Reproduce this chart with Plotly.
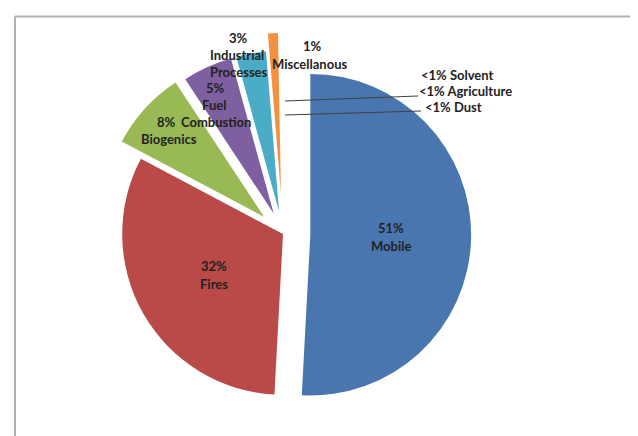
import plotly.graph_objects as go

# ---- data ----
sources = ["Mobile", "Fires", "Biogenics", "Fuel Combustion", "Industrial Processes",
           "Miscellanous", "Solvent", "Agriculture", "Dust"]
shares = [51, 32, 8, 5, 3, 1, 0.1, 0.1, 0.1]
share_labels = ["51%", "32%", "8%", "5%", "3%", "1%", "<1%", "<1%", "<1%"]

# ---- style ----
colors = ["#4A76B0", "#BA4A48", "#98B954", "#7E60A0", "#4AACC6", "#F39140",
          "#FFFFFF", "#FFFFFF", "#FFFFFF"]
pulls = [0.17, 0.0, 0.16, 0.14, 0.14, 0.25, 0.25, 0.25, 0.25]

W, H = 638, 436


def px(x, y):
    return x / W, 1 - y / H


fig = go.Figure(go.Pie(
    labels=sources, values=shares, sort=False, direction="clockwise", rotation=0,
    marker=dict(colors=colors, line=dict(width=0)),
    pull=pulls, textinfo="none", hoverinfo="label+percent",
    domain=dict(x=[74 / W, 476 / W], y=[9 / H, 411 / H]),
    showlegend=False,
))

FONT = dict(family="Lato", size=13, color="#222222", weight="bold")

# label line placements (text built from the data arrays)
ann = []


def add(text, x, y, anchor="center"):
    ax, ay = px(x, y)
    ann.append(dict(text=text, x=ax, y=ay, xref="paper", yref="paper",
                    xanchor=anchor, yanchor="middle", showarrow=False, font=FONT))


add(share_labels[0], 383, 220); add(sources[0], 383, 238)
add(share_labels[1], 206, 258); add(sources[1], 206, 276)
add(share_labels[2], 158, 114); add(sources[2], 161, 131)
add(share_labels[3], 207, 80)
fuel, comb = sources[3].split(" ")
add(fuel, 206, 97); add(comb, 208, 114)
add(share_labels[4], 230, 30)
ind, proc = sources[4].split(" ")
add(ind, 229, 47); add(proc, 231, 64)
add(share_labels[5], 304, 38); add(sources[5], 301, 56)
add(f"{share_labels[6]} {sources[6]}", 411, 67, "left")
add(f"{share_labels[7]} {sources[7]}", 409, 83, "left")
add(f"{share_labels[8]} {sources[8]}", 415, 99, "left")

shapes = []
for (x0, y0, x1, y1) in [(277, 93, 410, 88), (277, 107, 413, 103)]:
    a0, b0 = px(x0, y0)
    a1, b1 = px(x1, y1)
    shapes.append(dict(type="line", xref="paper", yref="paper", x0=a0, y0=b0, x1=a1, y1=b1,
                       line=dict(color="#404040", width=1)))
# chart frame (top and left edges visible)
fx, fy = px(7, 8.5)
shapes.append(dict(type="line", xref="paper", yref="paper", x0=fx, y0=fy, x1=1.0, y1=fy,
                   line=dict(color="#B0B0B0", width=2)))
shapes.append(dict(type="line", xref="paper", yref="paper", x0=fx, y0=fy, x1=fx, y1=0,
                   line=dict(color="#B0B0B0", width=2)))

fig.update_layout(
    width=W, height=H, margin=dict(l=0, r=0, t=0, b=0),
    paper_bgcolor="white", plot_bgcolor="white",
    annotations=ann, shapes=shapes,
)

fig.write_html("out.html")
